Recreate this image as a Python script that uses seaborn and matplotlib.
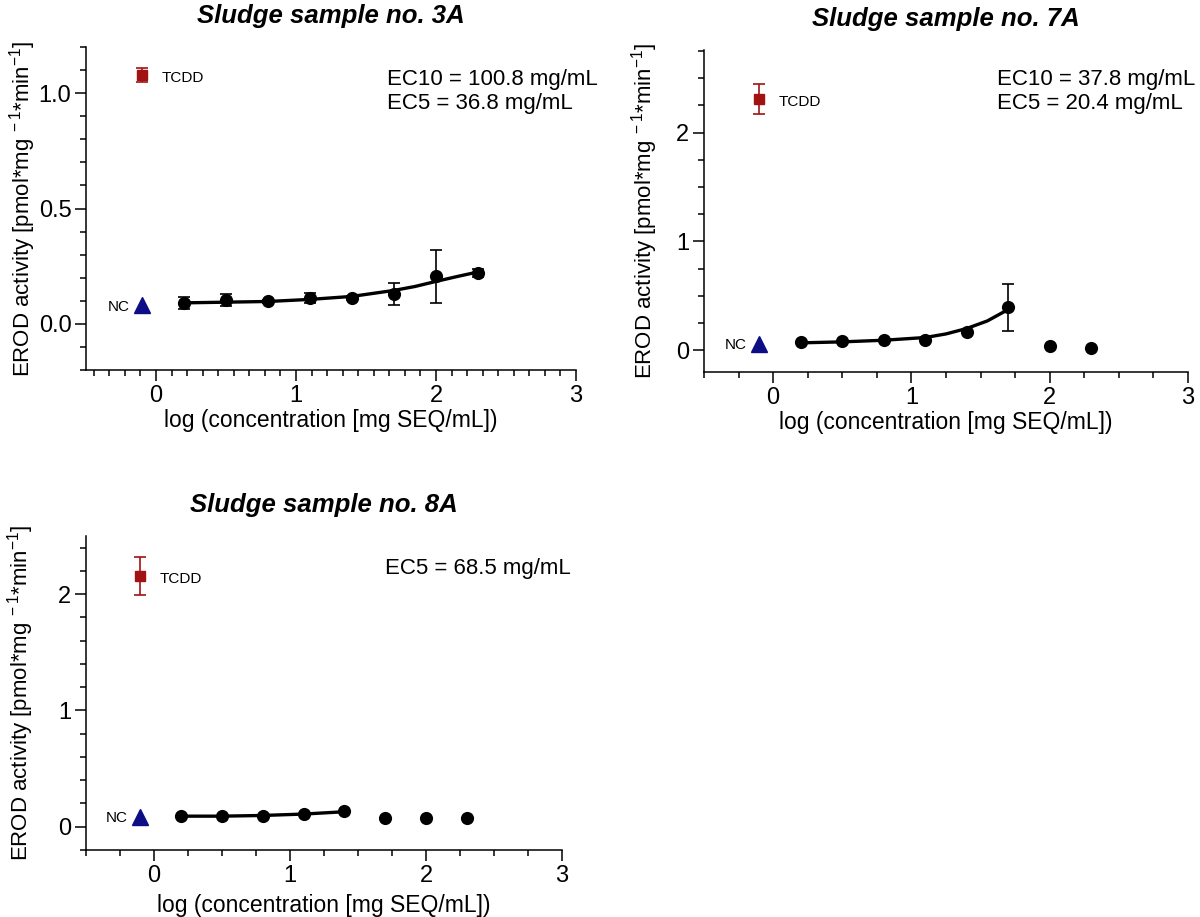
import matplotlib
matplotlib.use("Agg")
import matplotlib.pyplot as plt
from matplotlib.ticker import AutoMinorLocator
import seaborn as sns
import pandas as pd

# ---------------- data ----------------
log_conc = [0.2, 0.5, 0.8, 1.1, 1.4, 1.7, 2.0, 2.3]

s3a_mean = [0.090, 0.104, 0.097, 0.112, 0.112, 0.130, 0.206, 0.220]
s3a_err = [0.025, 0.025, 0.008, 0.023, 0.010, 0.048, 0.114, 0.018]
s3a_fit_x = [0.2, 0.5, 0.8, 1.1, 1.4, 1.7, 1.85, 2.0, 2.15, 2.3]
s3a_fit_y = [0.091, 0.094, 0.097, 0.106, 0.119, 0.145, 0.162, 0.184, 0.205, 0.225]

s7a_mean = [0.077, 0.086, 0.092, 0.098, 0.169, 0.393, 0.040, 0.022]
s7a_err = [0.0, 0.0, 0.0, 0.0, 0.0, 0.220, 0.0, 0.0]
s7a_fit_x = [0.2, 0.5, 0.8, 1.1, 1.25, 1.4, 1.55, 1.7]
s7a_fit_y = [0.068, 0.077, 0.092, 0.117, 0.150, 0.200, 0.270, 0.375]

s8a_mean = [0.091, 0.094, 0.094, 0.109, 0.134, 0.077, 0.071, 0.071]
s8a_fit_x = [0.2, 0.5, 0.8, 1.1, 1.4]
s8a_fit_y = [0.091, 0.091, 0.097, 0.109, 0.129]

ctrl_x = -0.1
tcdd_mean = [1.078, 2.31, 2.157]
tcdd_err = [0.030, 0.138, 0.164]
nc_mean = [0.080, 0.060, 0.086]

titles = ["Sludge sample no. 3A", "Sludge sample no. 7A", "Sludge sample no. 8A"]
ec_texts = ["EC10 = 100.8 mg/mL\nEC5 = 36.8 mg/mL",
            "EC10 = 37.8 mg/mL\nEC5 = 20.4 mg/mL",
            "EC5 = 68.5 mg/mL"]
xlabel = "log (concentration [mg SEQ/mL])"
ylabel = r"EROD activity [pmol*mg$^{\ -1}$*min$^{-1}$]"

# ---------------- style ----------------
sns.set_style("ticks")
plt.rcParams["font.family"] = ["Liberation Sans", "DejaVu Sans"]
plt.rcParams["mathtext.fontset"] = "custom"
plt.rcParams["mathtext.rm"] = "Liberation Sans"
plt.rcParams["mathtext.it"] = "Liberation Sans:italic"
for key in ("text.color", "axes.labelcolor", "xtick.color", "ytick.color", "axes.edgecolor"):
    plt.rcParams[key] = "black"

W, H = 1200, 917
fig = plt.figure(figsize=(W / 100, H / 100), dpi=100)


def px_axes(left, right, top, bottom):
    return fig.add_axes([left / W, 1 - bottom / H, (right - left) / W, (bottom - top) / H])


panels = [
    dict(box=(86, 576, 47, 370), ylim=(-0.2, 1.2), yticks=[0.0, 0.5, 1.0], yfmt="{:.1f}",
         ymin=5, xmin=9, mean=s3a_mean, err=s3a_err, fx=s3a_fit_x, fy=s3a_fit_y,
         ec=(0.614, 0.862), ylab=-0.098, xlab=-0.12),
    dict(box=(704, 1188, 50, 372), ylim=(-0.2, 2.76), yticks=[0, 1, 2], yfmt="{:.0f}",
         ymin=4, xmin=4, mean=s7a_mean, err=s7a_err, fx=s7a_fit_x, fy=s7a_fit_y,
         ec=(0.606, 0.87), ylab=-0.09, xlab=-0.12),
    dict(box=(86, 562, 536, 850), ylim=(-0.2, 2.5), yticks=[0, 1, 2], yfmt="{:.0f}",
         ymin=5, xmin=4, mean=s8a_mean, err=None, fx=s8a_fit_x, fy=s8a_fit_y,
         ec=(0.628, 0.898), ylab=-0.105, xlab=-0.14),
]

for i, p in enumerate(panels):
    ax = px_axes(*p["box"])
    fit_df = pd.DataFrame({"x": p["fx"], "y": p["fy"]})
    pts_df = pd.DataFrame({"x": log_conc, "y": p["mean"]})
    sns.lineplot(data=fit_df, x="x", y="y", ax=ax, color="black", lw=2.4, zorder=3)
    if p["err"] is not None:
        ax.errorbar(log_conc, p["mean"], yerr=p["err"], fmt="none", ecolor="black",
                    elinewidth=1.2, capsize=4, capthick=1.2, zorder=2)
    sns.scatterplot(data=pts_df, x="x", y="y", ax=ax, color="black", s=90,
                    edgecolor="black", linewidth=0, zorder=4)
    # controls
    ax.errorbar([ctrl_x], [tcdd_mean[i]], yerr=[tcdd_err[i]], fmt="s", color="#a31212",
                ms=7.5, elinewidth=1.2, capsize=4, capthick=1.2, zorder=4)
    ax.plot([ctrl_x], [nc_mean[i]], marker="^", color="#0d0d85", ms=11.5, ls="none", zorder=4)
    ax.annotate("TCDD", (ctrl_x, tcdd_mean[i]), xytext=(14, -2), textcoords="offset points",
                ha="left", va="center", fontsize=11)
    ax.annotate("NC", (ctrl_x, nc_mean[i]), xytext=(-9, -1), textcoords="offset points",
                ha="right", va="center", fontsize=11)

    ax.text(p["ec"][0], p["ec"][1], ec_texts[i], transform=ax.transAxes,
            ha="left", va="center", fontsize=16, linespacing=1.18)

    ax.set_xlim(-0.5, 3.0)
    ax.set_ylim(*p["ylim"])
    ax.set_xticks([0, 1, 2, 3])
    ax.set_yticks(p["yticks"])
    ax.set_yticklabels([p["yfmt"].format(v) for v in p["yticks"]])
    ax.xaxis.set_minor_locator(AutoMinorLocator(p["xmin"]))
    ax.yaxis.set_minor_locator(AutoMinorLocator(p["ymin"]))
    ax.tick_params(axis="both", which="major", direction="out", length=8, width=1.1,
                   labelsize=17, pad=2.5, color="black", labelcolor="black")
    ax.tick_params(axis="both", which="minor", direction="out", length=4, width=1.1,
                   color="black")
    for side in ("left", "bottom"):
        ax.spines[side].set_linewidth(1.1)
        ax.spines[side].set_color("black")
    sns.despine(ax=ax)

    ax.set_xlabel(xlabel, fontsize=16.5)
    ax.set_ylabel(ylabel, fontsize=16)
    ax.xaxis.set_label_coords(0.5, p["xlab"])
    ax.yaxis.set_label_coords(p["ylab"], 0.5)
    ax.set_title(titles[i], fontsize=18.5, fontweight="bold", fontstyle="italic", pad=17)

fig.savefig("out.png", dpi=100, facecolor="white")
